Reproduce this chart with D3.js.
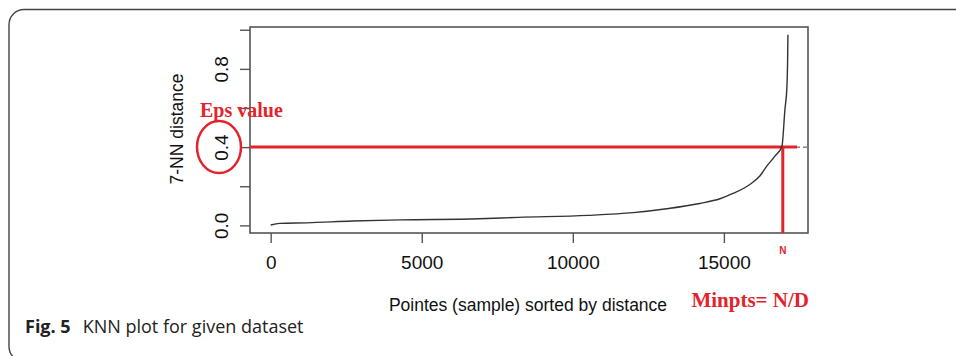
<!DOCTYPE html>
<html>
<head>
<meta charset="utf-8">
<script src="https://cdn.jsdelivr.net/npm/d3@7"></script>
<style>
  body { margin: 0; background: #fff; }
  svg { display: block; }
</style>
</head>
<body>
<div class="chart"></div>
<script>
// sorted 7-NN distances
const pointIndex = [1, 300, 1200, 2700, 4300, 6900, 8200, 10500, 12000, 13100,
  14200, 14870, 15300, 15860, 16190, 16420, 16690, 16920, 17020, 17085, 17110, 17120];
const knnDistance = [0.002, 0.010, 0.013, 0.022, 0.028, 0.034, 0.041, 0.051, 0.065, 0.085,
  0.112, 0.136, 0.163, 0.209, 0.252, 0.303, 0.354, 0.403, 0.592, 0.704, 0.85, 0.974];

const xTicks = [0, 5000, 10000, 15000];
const yTicks = [0, 0.2, 0.4, 0.6, 0.8, 1.0];
const yTickLabels = ['0.0', '', '0.4', '', '0.8', ''];

const epsValue = 0.4;
const kneePoint = 16950;
const epsLineEnd = 17420;

const red = '#e3232c';
const axisColor = '#555';

function draw() {
  const width = 956,
    height = 356;
  const svg = d3
    .select('.chart')
    .append('svg')
    .attr('width', width)
    .attr('height', height);

  // card frame
  svg
    .append('rect')
    .attr('x', 9)
    .attr('y', 9.5)
    .attr('width', 1000)
    .attr('height', 352)
    .attr('rx', 15)
    .attr('fill', 'none')
    .attr('stroke', '#444')
    .attr('stroke-width', 1.4);

  const plot = { left: 250, top: 27, right: 808, bottom: 233 };
  const x = d3.scaleLinear().domain([-684, 17784]).range([plot.left, plot.right]);
  const y = d3.scaleLinear().domain([-0.039, 1.014]).range([plot.bottom, plot.top]);

  // box
  svg
    .append('rect')
    .attr('x', plot.left)
    .attr('y', plot.top)
    .attr('width', plot.right - plot.left)
    .attr('height', plot.bottom - plot.top)
    .attr('fill', 'none')
    .attr('stroke', axisColor)
    .attr('stroke-width', 1.6);

  // x axis
  const xAxis = svg
    .append('g')
    .attr('transform', 'translate(0,' + plot.bottom + ')')
    .call(d3.axisBottom(x).tickValues(xTicks).tickSize(10).tickPadding(13).tickFormat(d3.format('d')));
  xAxis.select('.domain').remove();
  xAxis.selectAll('line').attr('stroke', axisColor).attr('stroke-width', 1.4);
  xAxis
    .selectAll('text')
    .attr('fill', '#111')
    .style('font-family', '"Liberation Sans", Arial, sans-serif')
    .style('font-size', '19px');

  // y axis, labels rotated like base R
  const yAxis = svg
    .append('g')
    .attr('transform', 'translate(' + plot.left + ',0)')
    .call(d3.axisLeft(y).tickValues(yTicks).tickSize(10).tickFormat((d, i) => yTickLabels[i]));
  yAxis.select('.domain').remove();
  yAxis.selectAll('line').attr('stroke', axisColor).attr('stroke-width', 1.4);
  yAxis
    .selectAll('text')
    .attr('x', null)
    .attr('dy', null)
    .attr('transform', 'translate(-22,0) rotate(-90)')
    .attr('text-anchor', 'middle')
    .attr('fill', '#111')
    .style('font-family', '"Liberation Sans", Arial, sans-serif')
    .style('font-size', '19px');

  svg
    .append('text')
    .attr('transform', 'translate(183,129) rotate(-90)')
    .attr('text-anchor', 'middle')
    .style('font-family', '"Liberation Sans", Arial, sans-serif')
    .style('font-size', '17.5px')
    .attr('fill', '#111')
    .text('7-NN distance');

  svg
    .append('text')
    .attr('x', 528)
    .attr('y', 311)
    .attr('text-anchor', 'middle')
    .style('font-family', '"Liberation Sans", Arial, sans-serif')
    .style('font-size', '17.5px')
    .attr('fill', '#111')
    .text('Pointes (sample) sorted by distance');

  // eps reference line: dashed across, red over most of it
  svg
    .append('line')
    .attr('x1', plot.left)
    .attr('x2', plot.right)
    .attr('y1', y(epsValue))
    .attr('y2', y(epsValue))
    .attr('stroke', '#444')
    .attr('stroke-width', 1)
    .attr('stroke-dasharray', '4,3');

  svg
    .append('line')
    .attr('x1', plot.left)
    .attr('x2', x(epsLineEnd))
    .attr('y1', y(epsValue))
    .attr('y2', y(epsValue))
    .attr('stroke', red)
    .attr('stroke-width', 3);

  svg
    .append('line')
    .attr('x1', x(kneePoint))
    .attr('x2', x(kneePoint))
    .attr('y1', y(epsValue))
    .attr('y2', plot.bottom)
    .attr('stroke', red)
    .attr('stroke-width', 3);

  // the knn curve
  const curve = pointIndex.map((d, i) => ({ x: d, y: knnDistance[i] }));
  const line = d3
    .line()
    .curve(d3.curveMonotoneX)
    .x((d) => x(d.x))
    .y((d) => y(d.y));
  svg
    .append('path')
    .datum(curve)
    .attr('d', line)
    .attr('fill', 'none')
    .attr('stroke', '#333')
    .attr('stroke-width', 1.4);

  // annotations
  svg
    .append('ellipse')
    .attr('cx', 219)
    .attr('cy', y(epsValue))
    .attr('rx', 22)
    .attr('ry', 26)
    .attr('fill', 'none')
    .attr('stroke', red)
    .attr('stroke-width', 2.5);

  svg
    .append('text')
    .attr('x', 200)
    .attr('y', 117)
    .style('font-family', '"Liberation Serif", "Times New Roman", serif')
    .style('font-weight', 'bold')
    .style('font-size', '20px')
    .attr('fill', red)
    .text('Eps value');

  svg
    .append('text')
    .attr('x', x(kneePoint))
    .attr('y', 254)
    .attr('text-anchor', 'middle')
    .style('font-family', '"Liberation Sans", Arial, sans-serif')
    .style('font-weight', 'bold')
    .style('font-size', '10px')
    .attr('fill', red)
    .text('N');

  svg
    .append('text')
    .attr('x', plot.right + 1)
    .attr('y', 307)
    .attr('text-anchor', 'end')
    .style('font-family', '"Liberation Serif", "Times New Roman", serif')
    .style('font-weight', 'bold')
    .style('font-size', '21px')
    .attr('fill', red)
    .text('Minpts= N/D');

  // caption
  const caption = svg
    .append('text')
    .attr('x', 25)
    .attr('y', 333)
    .style('font-family', '"Open Sans", sans-serif')
    .style('font-size', '18px')
    .attr('fill', '#222');
  caption.append('tspan').style('font-weight', 'bold').text('Fig. 5');
  caption.append('tspan').attr('dx', 12).text('KNN plot for given dataset');
}

draw();
</script>
</body>
</html>
